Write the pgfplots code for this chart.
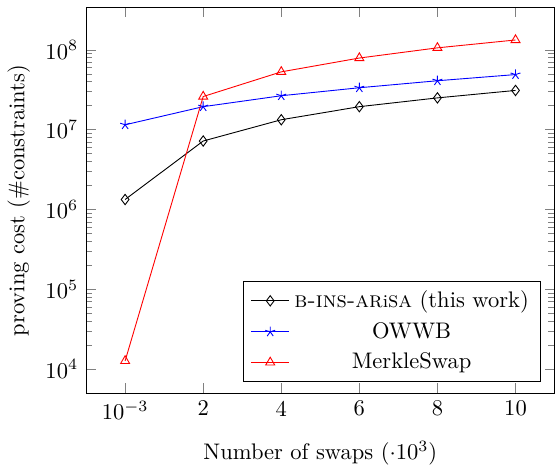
\documentclass[border=0pt]{standalone}
\usepackage{pgfplots}
\pgfplotsset{compat=1.18}
\begin{document}
\begin{tikzpicture}
\begin{axis}[
  scale only axis,
  width=208pt, height=171pt,
  ymode=log,
  xmin=-1, xmax=11,
  xtick={0,2,4,6,8,10},
  xticklabels={$10^{-3}$,2,4,6,8,10},
  ytick={1e4,1e5,1e6,1e7,1e8},
  xlabel={Number of swaps ($\cdot 10^3$)},
  xlabel style={yshift=-3pt},
  ylabel={proving cost (\#constraints)},
  legend style={at={(0.97,0.03)},anchor=south east,
    /tikz/every even column/.append style={column sep=2pt},
    row sep=1pt},
  legend cell align=center,
]
\addplot[black, mark=diamond, mark size=2.3pt] coordinates {
 (0,1.33e6) (2,7.2e6) (4,1.33e7) (6,1.94e7) (8,2.5e7) (10,3.1e7)};
\addlegendentry{\textsc{b-ins-ar}{\footnotesize i}\textsc{sa} (this work)}
\addplot[blue, mark=star, mark size=2.3pt] coordinates {
 (0,1.15e7) (2,1.94e7) (4,2.66e7) (6,3.35e7) (8,4.1e7) (10,4.9e7)};
\addlegendentry{OWWB}
\addplot[red, mark=triangle, mark size=2.3pt] coordinates {
 (0,1.26e4) (2,2.6e7) (4,5.3e7) (6,7.9e7) (8,1.06e8) (10,1.33e8)};
\addlegendentry{MerkleSwap}
\end{axis}
\path (current axis.north) ++(0,3.5pt);
\end{tikzpicture}
\end{document}
